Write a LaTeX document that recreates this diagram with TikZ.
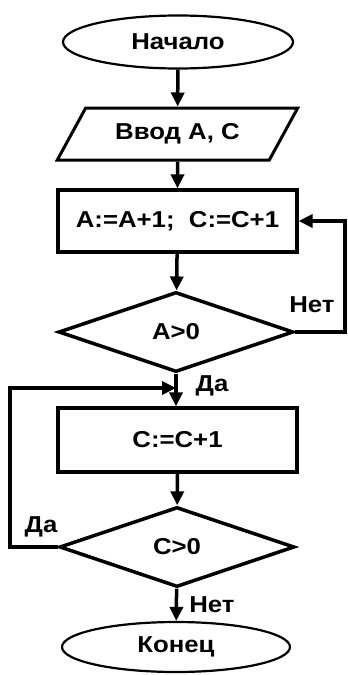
\documentclass[tikz,border=0pt]{standalone}
\usepackage{fontspec}
\setmainfont{Liberation Sans}[FakeStretch=1.12]
\usetikzlibrary{shapes.geometric,arrows.meta}
\tikzset{
  every node/.style={font=\fontsize{23}{27}\selectfont\bfseries},
  term/.style={draw, ellipse, line width=2.2pt, inner sep=0pt},
  procbox/.style={draw, rectangle, line width=3.2pt, minimum width=239pt, inner sep=0pt},
  decide/.style={draw, diamond, line width=3.5pt, minimum width=235pt, minimum height=80pt, inner sep=0pt},
  iobox/.style={draw, trapezium, trapezium left angle=47, trapezium right angle=133, trapezium stretches=true, minimum width=241pt, minimum height=52pt, line width=3pt, inner sep=0pt},
  flow/.style={line width=3.5pt, -{Triangle[length=14pt,width=13pt]}},
  lbl/.style={inner sep=0pt}
}
\begin{document}
\begin{tikzpicture}[x=1pt,y=-1pt]
\useasboundingbox (0,0) rectangle (348,675);
\node[term, minimum width=230pt, minimum height=53pt] (start) at (178,42) {Начало};
\node[iobox] (input) at (177.5,134) {Ввод A, C};
\node[procbox, minimum height=62pt] (p1) at (177.5,221) {A:=A+1;\ \ C:=C+1};
\node[decide] (d1) at (176,332) {A>0};
\node[procbox, minimum height=64pt] (p2) at (177.5,440) {C:=C+1};
\node[decide] (d2) at (177,547) {C>0};
\node[term, minimum width=228pt, minimum height=50pt] (end) at (176,647) {Конец};
\coordinate (j) at (176,388);
\coordinate (r1) at (345,332);
\coordinate (r2) at (345,221);
\coordinate (l1) at (10,547);
\coordinate (l2) at (10,388);
\draw[flow] (start) -- (input);
\draw[flow] (input) -- (p1);
\draw[flow] (p1) -- (d1);
\draw[line width=3.5pt] (d1.south) -- (j);
\draw[flow] (j) -- (p2.north -| j);
\draw[flow] (p2) -- (d2);
\draw[flow] (d2) -- (end);
\draw[flow] (d1.east) -- (r1) -- (r2) -- (p1.east);
\draw[flow] (d2.west) -- (l1) -- (l2) -- (j);
\node[lbl] (net1) at (312,305) {Нет};
\node[lbl] (da1) at (212,386) {Да};
\node[lbl] (da2) at (41,527) {Да};
\node[lbl] (net2) at (212,605) {Нет};
\end{tikzpicture}
\end{document}
